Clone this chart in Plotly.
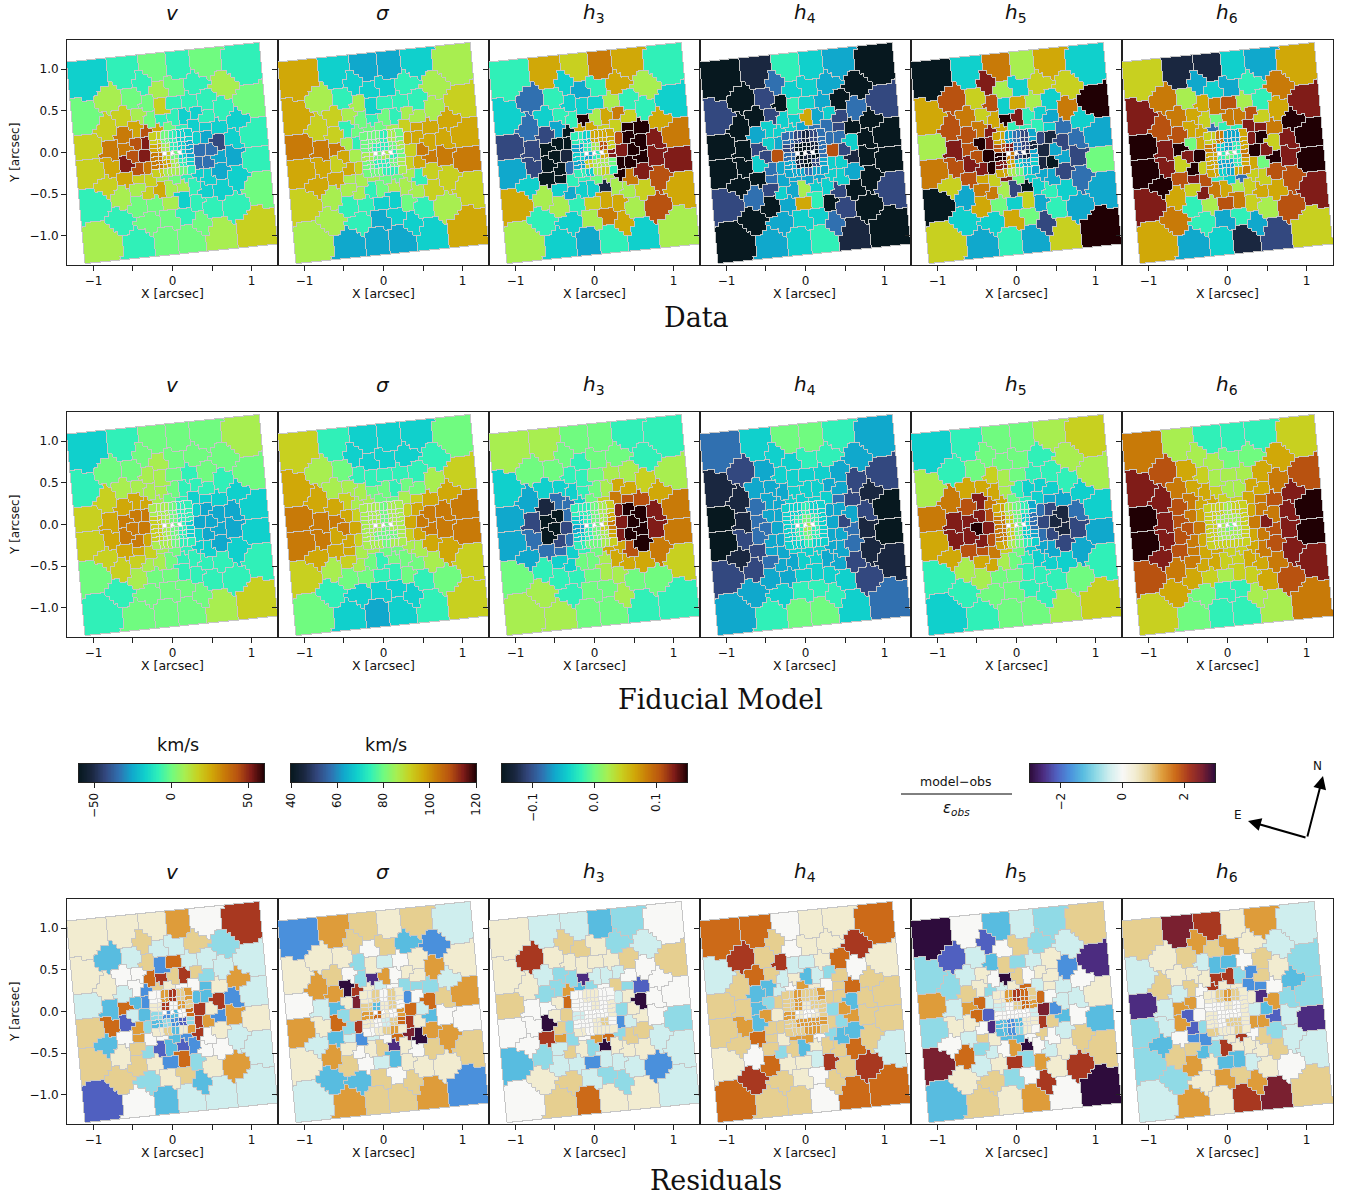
import numpy as np
import plotly.graph_objects as go

# ---------- values, in colour-bar steps (1/7 of the half range) ----------
v_data = [[-2,-1,0,-1,0,-1],[1,0,-1,1,0,-1,1],[0,2,1,0,2,-1,-1,-1,0],[2,0,-1,-1,-2,-2,-1,-1,-2],[2,4,3,5,3,0,-1,-2,-2,-2,-1],[4,4,5,6,-2,-3,-5,-2],[5,6,-4,-4],[3,6,5,4,-4,-4,-3,-3],[2,3,2,2,1,0,-1,-2,-2,-3,-1],[2,1,1,2,3,1,1,-1,-2],[-1,0,0,1,-2,-1,-2,-2,0],[-1,0,0,-1,0,-1,-1],[1,-1,0,0,1,2]]
sigma_data = [[3,-2,-3,-3,-2,1],[1,-1,-2,-2,-2,-1,1],[3,2,1,1,-2,-1,-1,-1,2],[2,0,-1,0,-1,1,1,1,3],[4,2,-1,0,0,0,1,2,3,3,3],[4,4,1,-1,3,3,3,3],[3,1,2,4],[3,2,3,2,2,3,4,4],[3,3,1,1,1,0,0,1,-1,2,4],[3,1,1,1,-1,0,1,1,2],[2,-1,-1,-2,-2,0,1,2,2],[1,-1,-3,-2,-2,-1,1],[1,-3,-3,-3,-2,3]]
h3_data = [[-1,3,2,4,3,-1],[-4,-1,-2,-3,-1,3,1],[-2,-2,-1,-2,-2,-2,1,-1,-2],[-4,-1,7,1,3,4,2,-1,3],[-5,-5,-3,-7,3,3,2,2,7,7,4],[-5,-7,-7,-7,5,7,7,6],[-7,-6,6,7],[-5,-7,-7,-4,7,7,7,6],[-3,-7,-7,-1,-1,0,1,7,4,6,6],[-2,1,-2,-3,-2,-2,-6,1,5],[3,1,-1,2,3,3,1,2,3],[-1,-2,1,4,3,1,5],[1,-2,-3,-1,-2,1]]
h4_data = [[-7,-6,-1,-2,-3,-7],[-7,-5,-4,-2,-2,-3,-7],[-5,-7,-5,-7,-1,-2,-3,-7,-5],[-7,-2,-2,3,-3,-2,-5,-4,-7],[-7,-3,-2,-2,-2,-3,-4,-4,-5,-7,-7],[-7,-5,-2,-3,-4,-4,-2,-7],[-5,5,5,-5],[-7,-2,-4,-3,-2,-2,-6,-7],[-7,-7,-4,-3,-3,-3,-3,-2,-2,-3,-7],[-7,-4,-5,-2,-3,1,-2,-2,-7],[-5,-7,-3,3,-1,-7,-5,-7,-5],[-7,-3,-2,-2,-4,-5,-7],[-7,-3,-2,-1,-6,-7]]
h5_data = [[-7,-2,4,1,3,-2],[5,2,6,1,-2,2,2],[3,4,2,5,-2,3,1,-2,7],[5,3,7,6,-1,-2,-3,4,-2],[1,5,4,6,3,-1,-1,-1,-2,-4,-3],[6,5,7,6,-5,-6,-5,-4],[5,7,-6,-3],[5,6,6,7,-6,-7,-3,-5],[4,5,3,2,6,0,-2,-3,-3,-5,0],[2,-3,4,4,1,-5,-7,-2,-4],[-7,3,0,-2,2,-3,-1,-2,-3],[-2,-2,3,0,-5,-1,-3],[2,-3,-1,-3,2,7]]
h6_data = [[2,-6,-6,-2,-3,3],[4,1,-3,-2,-3,-1,4],[6,4,3,3,4,5,1,-1,6],[5,2,0,4,4,5,2,3,7],[7,5,3,3,-4,-1,-1,6,6,4,7],[6,7,0,3,6,7,2,6],[6,7,7,6],[6,2,7,2,3,0,7,6],[7,5,6,5,-1,-2,-4,2,2,5,7],[7,3,2,6,4,3,1,2,5],[6,-1,1,5,4,2,3,3,6],[4,-1,-3,-1,-3,1,5],[3,-3,-2,-6,-5,2]]

v_model = [[-2,-1,0,0,0,1],[0,0,0,1,0,0,0],[-1,1,1,1,1,0,-1,0,0],[2,1,1,0,-1,-1,-1,-1,-2],[2,3,3,3,1,0,-1,-2,-2,-2,-2],[3,4,4,4,-2,-3,-3,-3],[4,4,-3,-3],[3,4,4,3,-2,-3,-3,-3],[2,3,3,2,1,0,-1,-2,-2,-3,-2],[2,2,2,1,1,0,-1,-1,-2],[0,1,0,0,-1,-1,-1,-1,-1],[-1,0,0,0,0,-1,-1],[-1,0,0,0,1,2]]
sigma_model = [[2,-1,-2,-2,-2,0],[1,0,-2,-2,-2,-2,-1],[3,1,1,-1,-1,-1,-1,-1,2],[3,1,0,0,-1,0,0,1,3],[4,3,2,1,1,0,0,1,2,3,4],[4,4,3,2,2,3,4,4],[4,3,3,4],[4,3,3,2,2,3,4,4],[4,3,3,1,1,0,0,1,1,3,4],[3,1,2,1,0,-1,0,0,3],[2,0,0,-1,-1,0,0,1,2],[-1,-2,-2,-2,-2,-1,0],[0,-2,-3,-2,-1,2]]
h3_model = [[1,1,0,0,-1,-1],[0,0,0,-1,0,0,-1],[-2,-2,-2,-1,-1,0,1,1,1],[-3,-2,-1,0,1,3,3,2,3],[-3,-6,-4,-4,-2,0,2,4,5,5,4],[-5,-7,-7,-4,6,7,7,6],[-7,-5,6,7],[-4,-7,-5,-4,6,7,7,6],[-3,-4,-4,-2,-1,0,3,3,5,7,4],[-3,-1,-2,-2,0,0,1,3,4],[0,-1,-1,0,1,1,3,3,2],[1,-1,0,0,1,0,0],[1,1,0,0,-1,-1]]
h4_model = [[-4,-2,0,0,-1,-3],[-5,-3,-2,-2,-1,-1,-3],[-6,-3,-3,-2,-2,-2,-2,-3,-5],[-6,-3,-2,-2,-2,-3,-3,-5,-6],[-7,-4,-3,-3,-2,-2,-2,-2,-4,-5,-7],[-6,-4,-3,-3,-3,-3,-3,-5],[-4,-3,-3,-5],[-5,-4,-3,-3,-3,-3,-4,-6],[-7,-5,-3,-3,-2,-2,-2,-3,-3,-4,-7],[-6,-5,-4,-3,-3,-2,-2,-3,-6],[-5,-3,-3,-2,-2,-2,-3,-5,-6],[-3,-2,-1,-1,-1,-2,-5],[-3,-1,0,0,-2,-4]]
h5_model = [[-2,-1,0,0,1,2],[-1,0,0,0,0,-1,1],[1,3,3,2,1,0,-1,-1,1],[4,3,1,-1,-2,-2,-2,-1,-2],[4,5,6,4,3,0,-1,-2,-3,-3,-2],[6,6,6,5,-4,-5,-6,-4],[7,6,-5,-6],[6,6,6,5,-4,-5,-6,-5],[3,5,5,4,2,0,-2,-3,-3,-5,-3],[3,1,3,3,1,0,-1,-2,-3],[-1,1,0,0,-1,-1,-2,-2,-1],[-1,0,0,-1,-1,-1,0],[-2,-1,0,0,1,2]]
h6_model = [[4,1,-1,-1,-1,2],[5,3,1,1,0,0,3],[6,4,3,2,1,1,1,3,5],[6,3,2,1,1,3,3,4,6],[7,5,4,3,3,2,2,3,4,5,7],[6,5,4,3,3,4,4,6],[5,4,4,6],[6,5,4,3,3,4,5,6],[7,5,4,3,3,2,2,3,4,5,7],[6,4,4,3,3,2,2,3,6],[5,3,2,1,2,2,3,4,6],[3,0,-1,-1,1,3,5],[2,0,-1,-1,1,4]]

v_res = [[1,1,1,3,0,5],[-3,-1,2,-1,-1,2,-2],[1,0,0,2,-4,4,-1,-1,-1],[1,4,5,2,5,2,-2,-1,3],[-1,-1,0,-4,2,1,0,0,-3,1,-1],[-3,4,-3,-4,-3,-3,5,-4],[-1,-3,5,1],[4,-5,3,-2,5,3,-4,3],[2,0,3,0,0,-3,-4,5,0,1,1],[-3,1,2,-2,-5,-3,-5,-4,-1],[2,2,1,-4,4,-2,0,0,-1],[2,-2,1,2,-3,1,3],[-5,0,-3,-1,-1,-1]]
sigma_res = [[-4,3,2,1,2,-1],[1,1,2,0,2,-3,-4],[1,2,0,-2,1,-1,0,1,1],[3,-2,-6,3,0,1,1,3,-1],[0,3,7,5,1,-1,0,-2,-2,-2,3],[-1,-3,1,6,-4,0,4,2],[-2,2,4,-1],[1,4,-2,5,5,1,-3,0],[3,-3,-1,-4,-1,0,4,6,7,3,0],[-1,3,1,0,1,2,-6,1,3],[1,2,0,-1,-3,1,0,2,2],[-3,-3,2,0,2,1,1],[-1,3,2,2,3,-4]]
h3_res = [[1,-1,-1,-3,-2,0],[5,1,2,2,1,-2,-1],[1,-1,-2,1,1,1,1,2,2],[1,-2,-6,-1,-1,-1,0,0,0],[2,-2,-2,3,-3,-2,0,2,-2,-5,0],[0,0,1,4,-1,1,-7,0],[1,2,-2,1],[0,-7,2,-2,-4,-1,1,0],[0,5,3,-2,0,3,4,-2,2,2,-2],[0,-2,-1,2,1,-2,-7,1,-1],[-3,-1,-1,-4,-1,-1,1,1,-1],[1,2,-1,-2,-2,-1,-4],[0,2,4,1,1,-1]]
h4_res = [[4,4,0,1,1,4],[5,2,2,0,1,1,5],[-1,4,2,5,-1,-1,1,4,1],[2,-1,1,-3,-1,-2,2,0,2],[2,-3,-3,-1,0,3,1,0,2,4,2],[2,-3,-2,2,2,2,-3,2],[3,1,-2,3],[3,-3,2,2,2,-2,3,2],[2,4,2,1,3,3,0,-2,-3,-3,2],[2,0,2,-2,2,-3,1,2,2],[1,4,1,1,-1,5,2,4,-1],[5,2,1,0,2,2,5],[4,2,2,0,4,4]]
h5_res = [[-7,0,-3,-1,-2,2],[-5,-1,-5,0,2,-2,-1],[-2,-1,1,-3,2,-2,-1,1,-6],[-2,0,-7,2,0,1,1,-4,0],[3,2,1,-2,-1,1,4,-1,1,-1,1],[-1,3,4,-1,4,0,-1,-1],[4,-5,6,-4],[1,1,0,-6,5,2,-3,0],[-2,-1,2,1,-3,-3,0,2,0,-1,-3],[0,4,-2,-1,0,3,-7,0,2],[6,-1,1,5,-2,3,-1,1,2],[1,2,-2,0,5,1,5],[-3,2,1,3,0,-7]]
h6_res = [[2,6,5,1,3,-1],[1,2,3,2,3,1,-1],[-1,1,1,-1,-3,-3,0,2,-2],[2,1,5,5,-2,-4,2,1,-3],[-6,-1,2,0,5,1,1,-4,-4,0,-2],[-1,3,3,0,1,-6,3,-2],[-5,0,-1,-3],[-1,3,-5,-2,3,3,-5,-1],[-2,0,-4,-4,-1,1,5,0,2,-2,-6],[-3,2,2,-3,-2,5,1,1,-1],[-2,3,1,-3,-3,-1,1,2,-1],[-2,1,3,2,3,1,0],[-1,3,1,5,6,2]]

# central fine bins, 5 rows of 5 (top to bottom)
v_data_core = [2,0,-1,-2,-2, 3,1,-1,-2,-3, 4,2,0,-2,-3, 4,3,1,-1,-2, 2,1,1,0,-1]
sigma_data_core = [0,0,-1,1,0, 0,-1,-1,0,1, 1,0,1,-1,0, 0,-1,-1,0,1, 0,0,-1,-1,1]
h3_data_core = [-1,-2,3,3,3, -3,-1,1,5,2, -2,-3,-1,3,6, -3,2,1,1,0, -1,-2,1,2,-1]
h4_data_core = [-4,-5,-6,-5,-4, -5,-7,-7,-6,-4, -4,-7,-6,-7,-4, -3,-6,-7,-5,-3, -3,-3,-4,-3,-3]
h5_data_core = [3,-3,-4,-5,-3, 5,6,-4,-5,-6, 7,4,-5,-6,-3, 6,3,-2,-3,-2, 3,1,0,-2,-3]
h6_data_core = [2,4,-3,-3,3, 4,-2,-3,-1,3, 3,-1,0,-1,4, 3,-3,-3,-1,3, 3,-2,-3,3,4]
v_model_core = [1,1,0,-1,-1, 2,1,0,-1,-1, 2,1,0,-1,-2, 2,1,0,-1,-2, 1,1,0,-1,-1]
sigma_model_core = [1,1,0,1,1, 1,1,0,1,1, 1,1,0,1,1, 1,0,0,0,1, 1,1,0,1,1]
h3_model_core = [-1,-1,0,1,2, -2,-1,0,1,3, -3,-1,0,2,4, -2,-1,0,1,3, -1,0,0,1,2]
h4_model_core = [-2,-2,-1,-2,-2, -2,-1,0,-1,-2, -2,-1,1,-1,-2, -2,-1,0,-1,-2, -2,-2,-1,-2,-2]
h5_model_core = [3,1,0,-1,-3, 4,2,0,-2,-4, 4,2,0,-2,-4, 4,2,0,-2,-3, 3,1,0,-1,-2]
h6_model_core = [2,2,1,2,2, 2,1,1,1,2, 2,1,0,1,2, 2,1,1,1,2, 2,2,2,2,2]
v_res_core = [0,3,5,2,3, 1,5,0,3,2, -2,-4,-3,0,4, -3,-2,-4,-5,-2, 1,2,-3,1,3]
sigma_res_core = [1,2,0,2,1, 2,-3,1,2,0, 3,4,1,0,3, 1,0,-1,2,4, 0,1,2,3,1]
h3_res_core = [0,1,1,0,0, 0,0,1,0,1, -1,0,0,0,1, 0,0,1,2,0, 1,0,1,1,1]
h4_res_core = [2,3,2,2,3, 2,3,1,2,2, 3,1,0,1,2, 2,3,3,3,3, 2,2,3,3,2]
h5_res_core = [1,3,5,4,2, -1,0,2,4,3, 0,0,0,0,-1, -3,-4,-3,1,1, -3,-4,-2,1,0]
h6_res_core = [1,2,3,2,1, 0,0,1,0,1, 1,0,0,0,1, 1,0,2,2,1, 2,1,1,2,1]

# bin centres in the field frame (arcsec); lower half mirrors the upper half through the centre
upper_bins = [
    [(-1.0,1.01),(-.54,1.06),(-.15,1.07),(.18,1.08),(.55,1.08),(1.01,1.02)],
    [(-.80,.77),(-.48,.74),(-.31,.94),(-.11,.82),(.11,.84),(.41,.87),(.77,.80)],
    [(-1.09,.56),(-.63,.51),(-.42,.53),(-.27,.66),(-.10,.62),(.08,.66),(.27,.63),(.51,.64),(1.06,.55)],
    [(-.85,.41),(-.26,.46),(-.10,.47),(.07,.44),(.20,.45),(.37,.48),(.51,.41),(.74,.50),(.93,.34)],
    [(-1.09,.17),(-.62,.29),(-.46,.37),(-.32,.31),(-.17,.31),(0,.31),(.17,.31),(.32,.31),(.46,.30),(.64,.27),(1.08,.15)],
    [(-.83,.11),(-.62,.13),(-.47,.17),(-.36,.14),(.36,.14),(.47,.17),(.64,.10),(.84,.11)],
]
middle_bins = [(-.55,0),(-.36,0),(.36,0),(.55,0)]
row_titles = ["Data", "Fiducial Model", "Residuals"]
col_titles = ["<i>v</i>", "<i>σ</i>", "<i>h</i><sub>3</sub>", "<i>h</i><sub>4</sub>", "<i>h</i><sub>5</sub>", "<i>h</i><sub>6</sub>"]
x_ticks, x_labels = [-1,0,1], ["−1","0","1"]
x_minor = [-.5,.5]
y_ticks, y_labels = [-1,-.5,0,.5,1], ["−1.0","−0.5","0.0","0.5","1.0"]
cbar_ticks = [[-50,0,50],[40,60,80,100,120],[-.1,0,.1],[-2,0,2]]
cbar_labels = [["−50","0","50"],["40","60","80","100","120"],["−0.1","0.0","0.1"],["−2","0","2"]]
cbar_ranges = [(-60,60),(40,120),(-.15,.15),(-3,3)]

main_colors = ["#07181f","#1a2740","#33487f","#3070b0","#10a8cc","#10d0cc","#30f0b8","#70fb80","#a8ee50","#c8d020","#d0a808","#c87a08","#b85210","#801c18","#200004"]
res_colors = ["#2e0c3c","#4c2c80","#5060c0","#4a90dc","#58bce0","#90dae6","#cfeeee","#f8f8f6","#f2ecd0","#e6cf90","#de9c3a","#cc6a18","#a83820","#7a2030","#2e0c3c"]
def cs(c):
    return [[i/(len(c)-1), x] for i, x in enumerate(c)]

W, H = 1354, 1196
panel_left = [67,278,489,700,911,1122]
panel_top = [40,412,899]
PW, PH = 211, 225
XR, YR = (-1.335,1.335), (-1.35,1.35)

# pixelated power diagram of the bins in the rotated field
flat_upper = [b for r in upper_bins for b in r]
bins = flat_upper + middle_bins + [(-a,-b) for a,b in reversed(flat_upper)]
bu = np.array([b[0] for b in bins]); bv = np.array([b[1] for b in bins])
weight = 0.05 + 0.25*np.hypot(bu,bv)
x = XR[0] + (np.arange(PW)+.5)*(XR[1]-XR[0])/PW
y = YR[0] + (np.arange(PH)+.5)*(YR[1]-YR[0])/PH
X, Y = np.meshgrid(x,y)
th = np.radians(5.5); c, s = np.cos(th), np.sin(th)
U = X*c + Y*s; V = -X*s + Y*c
iu = np.rint(U/.05).astype(int); iv = np.rint(V/.05).astype(int)
Us, Vs = iu*.05, iv*.05
d = (Us[...,None]-bu)**2 + (Vs[...,None]-bv)**2 - weight**2
bid = d.argmin(axis=-1)
inside = (np.abs(U)<=1.225)&(np.abs(V)<=1.215)
core = (np.abs(iu)<=5)&(np.abs(iv)<=5)
nb = len(bins)
group = np.array([0,0,1,2,3,4,5,6,7,8,8])   # pixels -5..5 -> 9 cells, wider at the rim
gu = group[np.clip(iu+5,0,10)]; gv = group[np.clip(5-iv,0,10)]
pid = np.where(core, nb + gu + gv*9, bid)
pid[~inside] = -1
edge = np.zeros_like(pid, dtype=bool)
edge[:,:-1] |= pid[:,:-1]!=pid[:,1:]
edge[:-1,:] |= pid[:-1,:]!=pid[1:,:]
border = np.where(edge, np.where(core, 2.0, 0.0), np.nan).astype(np.float32)
hole = core & (iv==0) & np.isin(iu,[-2,0,2])

def panel_z(rows, core_vals, step, mid):
    outer = np.array([v for r in rows for v in r], dtype=float)
    assert outer.size == nb, outer.size
    corev = np.array(core_vals, dtype=float)
    fine = np.zeros(81)
    for r in range(9):
        for q in range(9):
            fine[q + r*9] = corev[5*(r*5//9) + (q*5//9)]
    lut = np.concatenate([outer, fine, [np.nan]])
    z = lut[pid]*step + mid
    z[hole] = np.nan
    return z.astype(np.float32)

groups = [
    [(v_data,v_data_core),(sigma_data,sigma_data_core),(h3_data,h3_data_core),(h4_data,h4_data_core),(h5_data,h5_data_core),(h6_data,h6_data_core)],
    [(v_model,v_model_core),(sigma_model,sigma_model_core),(h3_model,h3_model_core),(h4_model,h4_model_core),(h5_model,h5_model_core),(h6_model,h6_model_core)],
    [(v_res,v_res_core),(sigma_res,sigma_res_core),(h3_res,h3_res_core),(h4_res,h4_res_core),(h5_res,h5_res_core),(h6_res,h6_res_core)],
]
col_scale = [(60/7,0,-60,60),(40/7,80,40,120),(.15/7,0,-.15,.15),(.15/7,0,-.15,.15),(.15/7,0,-.15,.15),(.15/7,0,-.15,.15)]

fig = go.Figure()
layout = {}
ann = []
def text(px, py, t, size, family="DejaVu Sans", angle=0, color="#111"):
    ann.append(dict(x=px/W, y=1-py/H, xref="paper", yref="paper", text=t, showarrow=False,
                    xanchor="center", yanchor="middle", textangle=angle,
                    font=dict(size=size, family=family, color=color)))
font = dict(size=12, family="DejaVu Sans", color="#111")
ax_i = 0
title_y = [13,385,872]
for ri, top in enumerate(panel_top):
    for ci, left in enumerate(panel_left):
        ax_i += 1
        rows, cv = groups[ri][ci]
        if ri == 2:
            z = panel_z(rows, cv, 3/7, 0); zmin, zmax = -3, 3; scale = cs(res_colors)
        else:
            st, mid, zmin, zmax = col_scale[ci]
            z = panel_z(rows, cv, st, mid); scale = cs(main_colors)
        xn, yn = f"x{ax_i}", f"y{ax_i}"
        fig.add_trace(go.Heatmap(x=x, y=y, z=z, zmin=zmin, zmax=zmax, colorscale=scale, showscale=False,
                                 xaxis=xn, yaxis=yn, hoverinfo="skip", zsmooth=False))
        fig.add_trace(go.Heatmap(x=x, y=y, z=border, zmin=0, zmax=2, colorscale=[[0,"#c6c6c6"],[1,"#dadada"]],
                                 showscale=False, xaxis=xn, yaxis=yn, hoverinfo="skip", zsmooth=False))
        minor = dict(tickmode="array", tickvals=x_minor, ticks="outside", ticklen=5, tickcolor="#222", showgrid=False)
        layout[f"xaxis{ax_i}"] = dict(domain=[left/W,(left+PW)/W], range=list(XR), anchor=yn, showgrid=False, zeroline=False,
            tickmode="array", tickvals=x_ticks, ticktext=x_labels, ticks="outside", ticklen=5, tickcolor="#222", minor=minor,
            showline=True, linecolor="#222", linewidth=1, mirror=True, tickfont=font, tickangle=0)
        yaxis = dict(domain=[1-(top+PH)/H,1-top/H], range=list(YR), anchor=xn, showgrid=False, zeroline=False,
            tickmode="array", tickvals=y_ticks, ticks="outside", ticklen=5, tickcolor="#222",
            showline=True, linecolor="#222", linewidth=1, mirror=True, tickfont=font, showticklabels=(ci==0))
        if ci == 0:
            yaxis["ticktext"] = y_labels
        layout[f"yaxis{ax_i}"] = yaxis
        text(left+105, top+253, "X [arcsec]", 12.5)
        text(left+105, title_y[ri], col_titles[ci], 20)
    text(15, top+113, "Y [arcsec]", 12, angle=-90)

text(696,317,row_titles[0],27,"DejaVu Serif")
text(720,699,row_titles[1],27,"DejaVu Serif")
text(716,1180,row_titles[2],27,"DejaVu Serif")

# colour bars
bars = [(79,main_colors),(291,main_colors),(502,main_colors),(1030,res_colors)]
for k,(bx,cols) in enumerate(bars):
    ax_i += 1
    lo, hi = cbar_ranges[k]
    xx = np.linspace(lo,hi,256)
    fig.add_trace(go.Heatmap(x=xx, y=[0,1], z=[xx,xx], zmin=lo, zmax=hi, colorscale=cs(cols), showscale=False,
                             xaxis=f"x{ax_i}", yaxis=f"y{ax_i}", hoverinfo="skip"))
    layout[f"xaxis{ax_i}"] = dict(domain=[bx/W,(bx+185)/W], range=[lo,hi], anchor=f"y{ax_i}", showgrid=False, zeroline=False,
        tickmode="array", tickvals=cbar_ticks[k], ticktext=cbar_labels[k], ticks="outside", ticklen=5, tickcolor="#222",
        showline=True, linecolor="#222", linewidth=1, mirror=True, tickfont=font, tickangle=-90)
    layout[f"yaxis{ax_i}"] = dict(domain=[1-782/H,1-764/H], range=[0,1], anchor=f"x{ax_i}", showticklabels=False, ticks="",
        showgrid=False, zeroline=False, showline=True, linecolor="#222", linewidth=1, mirror=True)

text(178,745,"km/s",17.5); text(386,745,"km/s",17.5)
text(956,781,"model−obs",12.5)
text(956,808,"<i>ε<sub>obs</sub></i>",15)
text(1317,766,"N",12); text(1238,815,"E",12)
for hx,hy in [(1323,776),(1248,821)]:
    ann.append(dict(x=hx/W,y=1-hy/H,xref="paper",yref="paper",ax=1307-hx,ay=838-hy,axref="pixel",ayref="pixel",
                    text="",showarrow=True,arrowhead=2,arrowsize=1.3,arrowwidth=2,arrowcolor="black",standoff=0,startstandoff=0))
shapes = [dict(type="line",xref="paper",yref="paper",x0=901/W,x1=1012/W,y0=1-794/H,y1=1-794/H,line=dict(color="black",width=1))]

fig.update_layout(width=W,height=H,margin=dict(l=0,r=0,t=0,b=0,autoexpand=False),paper_bgcolor="white",plot_bgcolor="white",
                  showlegend=False,annotations=ann,shapes=shapes,**layout)
fig.write_html("out.html",post_script="document.body.style.margin='0';document.documentElement.style.overflow='hidden';",config=dict(displayModeBar=False))
